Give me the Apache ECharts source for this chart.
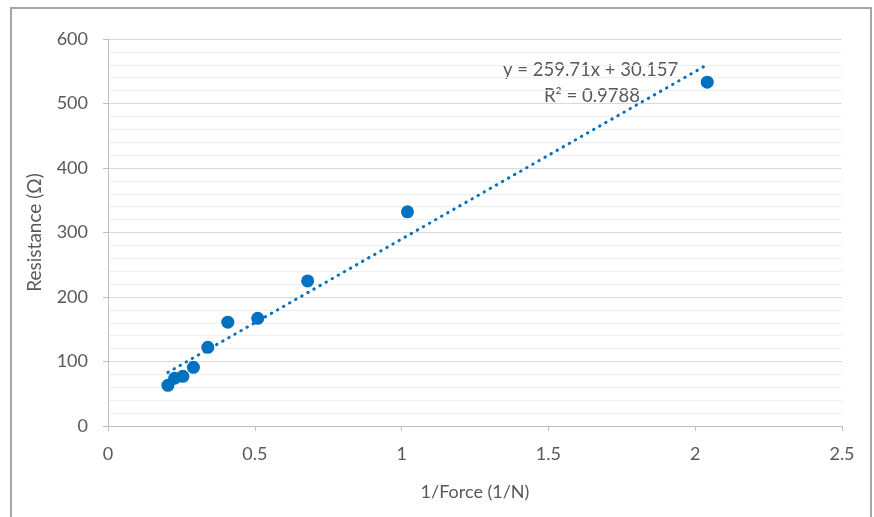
<!DOCTYPE html>
<html>
<head>
<meta charset="utf-8">
<script src="https://cdn.jsdelivr.net/npm/echarts@6/dist/echarts.min.js"></script>
<style>html,body{margin:0;padding:0;background:#fff;}#c{width:874px;height:517px;}</style>
</head>
<body>
<div id="c"></div>
<script>
const inverseForce = [0.204, 0.227, 0.255, 0.291, 0.340, 0.408, 0.510, 0.680, 1.020, 2.041];
const resistance   = [63, 74, 77, 91, 122, 161, 167, 225, 332, 533];
const trendX = [0.204, 2.041];
const trendY = [83.1, 560.2];
const xTicks = [0, 0.5, 1, 1.5, 2, 2.5];
const yTicks = [0, 100, 200, 300, 400, 500, 600];
const equationText = 'y = 259.71x + 30.157';
const r2Text = 'R² = 0.9788';

const font = 'Lato';
const fs = 18;
const textColor = '#595959';
const blue = '#0070C0';

const chart = echarts.init(document.getElementById('c'));
chart.setOption({
  animation: false,
  backgroundColor: '#fff',
  grid: {left: 108, right: 32, top: 39, bottom: 91},
  xAxis: {
    type: 'value', min: xTicks[0], max: xTicks[xTicks.length-1], interval: 0.5,
    name: '1/Force (1/N)', nameLocation: 'middle', nameGap: 57,
    nameTextStyle: {color: textColor, fontSize: fs, fontFamily: font},
    axisLine: {show: true, onZero: false, lineStyle: {color: '#bfbfbf', width: 1}},
    axisTick: {show: true, inside: false, length: 5, lineStyle: {color: '#bfbfbf'}},
    axisLabel: {color: textColor, fontSize: fs, fontFamily: font, margin: 19,
      formatter: v => String(v)},
    splitLine: {show: false}
  },
  yAxis: {
    type: 'value', min: yTicks[0], max: yTicks[yTicks.length-1], interval: 100,
    name: 'Resistance (Ω)', nameLocation: 'middle', nameGap: 64, nameRotate: 90,
    nameTextStyle: {color: textColor, fontSize: 19, fontFamily: font},
    axisLine: {show: true, lineStyle: {color: '#bfbfbf', width: 1}},
    axisTick: {show: true, inside: false, length: 5, lineStyle: {color: '#bfbfbf'}},
    axisLabel: {color: textColor, fontSize: fs, fontFamily: font, margin: 20},
    splitLine: {show: true, lineStyle: {color: '#d9d9d9', width: 1}},
    minorTick: {show: false, splitNumber: 5},
    minorSplitLine: {show: true, lineStyle: {color: '#eeeeee', width: 1}}
  },
  series: [
    {
      type: 'line',
      data: trendX.map((x, i) => [x, trendY[i]]),
      showSymbol: false,
      symbol: 'none',
      lineStyle: {color: blue, width: 3, type: [0.5, 6.5], cap: 'round'},
      z: 2
    },
    {
      type: 'scatter',
      data: inverseForce.map((x, i) => [x, resistance[i]]),
      symbolSize: 13,
      itemStyle: {color: blue, opacity: 1},
      z: 3
    }
  ],
  graphic: [
    {type: 'rect', shape: {x: 11, y: 8, width: 860, height: 520},
     style: {fill: 'none', stroke: '#a6a6a6', lineWidth: 2}, silent: true},
    {type: 'text', left: 503, top: 61,
     style: {text: equationText, fill: textColor, font: '18.5px ' + font}},
    {type: 'text', left: 544, top: 87,
     style: {text: r2Text, fill: textColor, font: '18.5px ' + font}}
  ]
});
</script>
</body>
</html>
